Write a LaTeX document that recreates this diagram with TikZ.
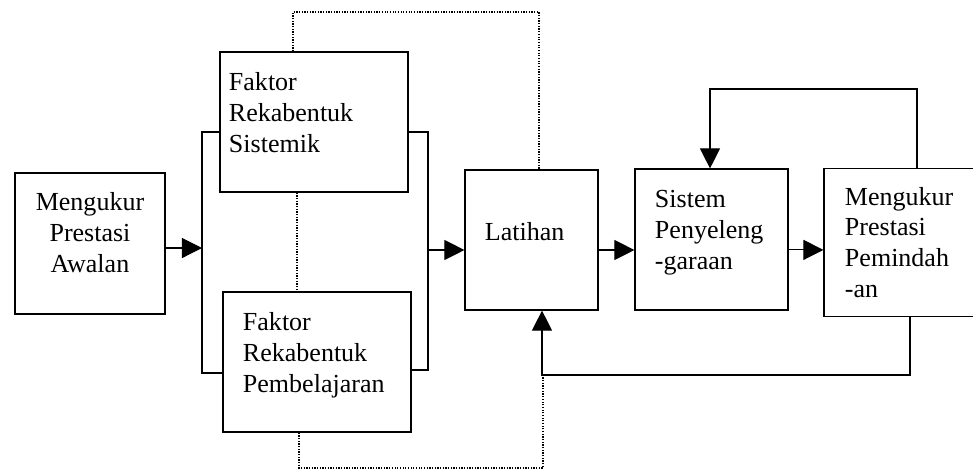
\documentclass[tikz,border=0pt]{standalone}
\usepackage{fontspec}
\setmainfont{Liberation Serif}
\usetikzlibrary{arrows.meta}

\begin{document}
\begin{tikzpicture}[x=0.025cm, y=-0.025cm,
        kotak/.style={draw, rectangle, line width=0.8pt, align=left, inner ysep=2pt,
            font=\fontsize{18.5}{22}\selectfont},
        panah/.style={line width=0.8pt, -{Triangle[length=0.5cm, width=0.5cm]}},
        garis/.style={line width=0.8pt},
        titik/.style={densely dotted, line width=0.9pt}]
        \useasboundingbox (0, 0) rectangle (973, 470);

        % kotak-kotak
        \node[kotak, align=center, text width=2.75cm, inner xsep=0.5cm, minimum height=3.525cm] (awal) at (90, 243.5) {Mengukur\\Prestasi\\Awalan\par\kern0.55cm};
        \node[kotak, text width=4.25cm, inner xsep=0.225cm, minimum height=3.5cm] (sistemik) at (314, 122) {Faktor\\Rekabentuk\\Sistemik\par\kern0.45cm};
        \node[kotak, text width=3.7cm, inner xsep=0.5cm, minimum height=3.5cm] (belajar) at (317, 362) {Faktor\\Rekabentuk\\Pembelajaran\par\kern0.35cm};
        \node[kotak, text width=2.325cm, inner xsep=0.5cm, minimum height=3.5cm] (latihan) at (531.5, 240) {Latihan\par\kern0.4cm};
        \node[kotak, text width=2.825cm, inner xsep=0.5cm, minimum height=3.525cm] (sistem) at (711.5, 239.5) {Sistem\\Penyeleng\\-garaan\par\kern0.35cm};
        \node[kotak, text width=2.95cm, inner xsep=0.525cm, minimum height=3.7cm] (pindah) at (904, 242.5) {Mengukur\\Prestasi\\Pemindah\\-an};

        % titik sambungan
        \coordinate (lb1) at (202, 132);
        \coordinate (lb2) at (202, 373);
        \coordinate (rb1) at (428, 132);
        \coordinate (rb2) at (428, 370);
        \coordinate (rbm) at (428, 250);
        \coordinate (fb1) at (910, 375);
        \coordinate (fb2) at (542, 375);
        \coordinate (ft1) at (917, 89);
        \coordinate (ft2) at (710, 89);
        \coordinate (dt1) at (293, 12);
        \coordinate (dt2) at (539, 12);
        \coordinate (dm) at (297, 242);
        \coordinate (db1) at (299, 468);
        \coordinate (db2) at (543, 468);

        % kurungan kiri dan kanan
        \draw[garis] (sistemik.west |- lb1) -- (lb1) -- (lb2) -- (belajar.west |- lb2);
        \draw[garis] (sistemik.east |- rb1) -- (rb1) -- (rb2) -- (belajar.east |- rb2);

        % anak panah
        \draw[panah] (awal.east |- 0, 248) -- (lb1 |- 0, 248);
        \draw[panah] (rbm) -- (rbm -| latihan.west);
        \draw[panah] ([yshift=-0.25cm]latihan.east) -- ([yshift=-0.25cm]latihan.east -| sistem.west);
        \draw[panah] ([yshift=-0.26cm]sistem.east) -- ([yshift=-0.26cm]sistem.east -| pindah.west);
        \draw[panah] (fb1 |- pindah.south) -- (fb1) -- (fb2) -- (fb2 |- latihan.south);
        \draw[panah] (ft1 |- pindah.north) -- (ft1) -- (ft2) -- (ft2 |- sistem.north);

        % garis bertitik
        \draw[titik] (dt1 |- sistemik.north) -- (dt1) -- (dt2) -- (dt2 |- latihan.north);
        \draw[titik] (dm |- sistemik.south) -- (dm |- belajar.north);
        \draw[titik] (db1 |- belajar.south) -- (db1) -- (db2) -- (db2 |- fb2);
    \end{tikzpicture}
\end{document}
